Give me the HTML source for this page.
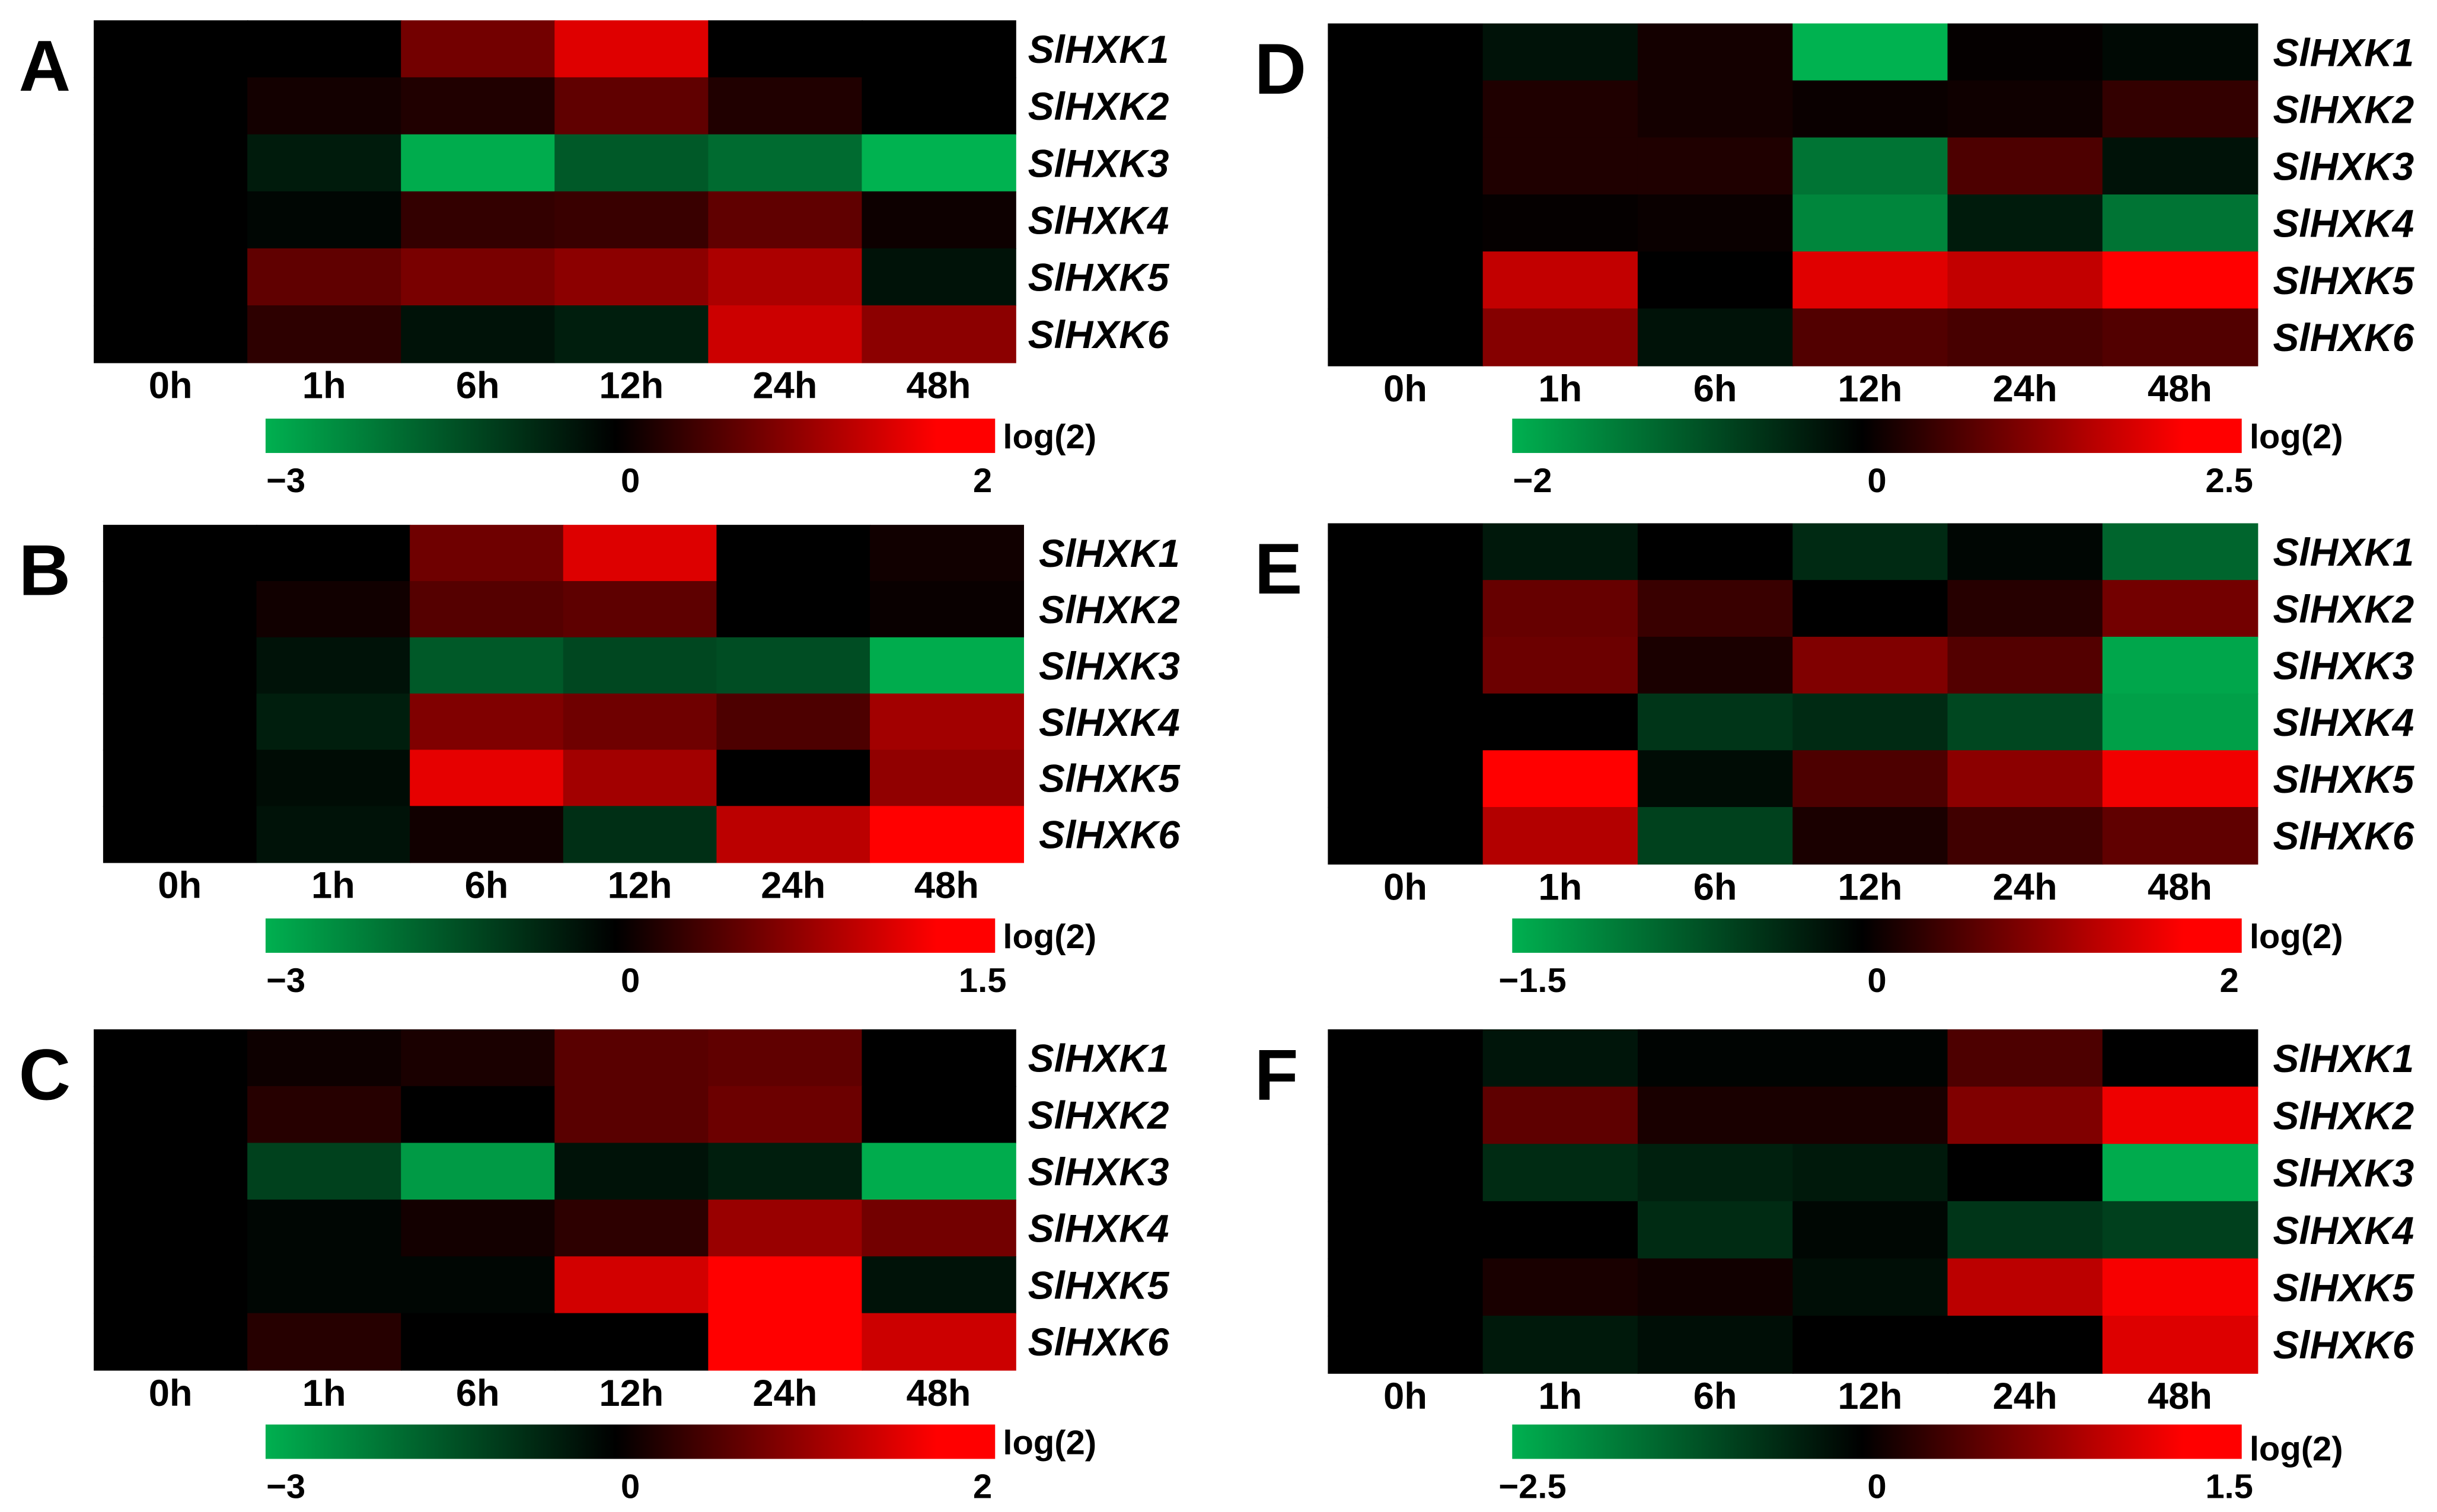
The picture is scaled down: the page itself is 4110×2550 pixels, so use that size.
<!DOCTYPE html>
<html><head><meta charset="utf-8"><style>
html,body{margin:0;padding:0;background:#fff}
svg{display:block}
text{font-family:"Liberation Sans",Arial,sans-serif;font-weight:bold;fill:#000}
</style></head><body>
<svg id="fig" width="4110" height="2550" viewBox="0 0 1560 968" preserveAspectRatio="none" xmlns="http://www.w3.org/2000/svg">
<defs>
<linearGradient id="cb" x1="0" x2="1" y1="0" y2="0">
<stop offset="0" stop-color="#00b050"/><stop offset="0.48" stop-color="#000"/><stop offset="0.92" stop-color="#ff0000"/><stop offset="1" stop-color="#ff0000"/>
</linearGradient>
</defs>
</svg>
<script>
const timepoints = ["0h","1h","6h","12h","24h","48h"];
const genes = ["SlHXK1","SlHXK2","SlHXK3","SlHXK4","SlHXK5","SlHXK6"];
const panelLetters = ["A","B","C","D","E","F"];
const scaleMin = [-3,-3,-3,-2,-1.5,-2.5];
const scaleMax = [2,1.5,2,2.5,2,1.5];
const minLabels = ["\u22123","\u22123","\u22123","\u22122","\u22121.5","\u22122.5"];
const maxLabels = ["2","1.5","2","2.5","2","1.5"];
const valuesA = [[0,0,0.9,1.75,0,0],[0,0.15,0.25,0.75,0.25,0],[0,-0.45,-2.9,-1.5,-1.8,-3],[0,-0.1,0.4,0.45,0.75,0.1],[0,0.75,0.95,1.1,1.35,-0.3],[0,0.35,-0.3,-0.5,1.6,1.1]];
const valuesB = [[0,0,0.65,1.3,0,0.1],[0,0.1,0.5,0.55,0,0.05],[0,-0.3,-1.5,-1.2,-1.3,-2.9],[0,-0.5,0.75,0.65,0.45,0.95],[0,-0.2,1.35,0.95,0,0.85],[0,-0.3,0.1,-0.8,1.1,1.5]];
const valuesC = [[0,0.1,0.2,0.7,0.75,0],[0,0.3,0,0.7,0.85,0],[0,-1.1,-2.6,-0.3,-0.5,-2.9],[0,-0.1,0.15,0.35,1.2,0.9],[0,-0.1,-0.1,1.65,2,-0.3],[0,0.3,0,0,2,1.6]];
const valuesD = [[0,-0.2,0.2,-2,0.05,-0.1],[0,0.3,0.2,0.1,0.15,0.5],[0,0.3,0.3,-1.3,0.75,-0.2],[0,0.05,0.1,-1.5,-0.3,-1.3],[0,1.9,0,2.2,1.9,2.5],[0,1.3,-0.2,0.8,0.7,0.8]];
const valuesE = [[0,-0.2,0,-0.35,-0.05,-0.85],[0,0.8,0.45,0,0.3,0.9],[0,0.85,0.2,1.0,0.65,-1.4],[0,0,-0.45,-0.35,-0.6,-1.35],[0,2,-0.1,0.6,1.1,1.9],[0,1.4,-0.55,0.2,0.5,0.75]];
const valuesF = [[0,-0.3,-0.05,-0.05,0.45,0],[0,0.55,0.15,0.15,0.75,1.4],[0,-0.6,-0.45,-0.35,0,-2.4],[0,0,-0.6,-0.1,-0.75,-0.9],[0,0.15,0.1,-0.2,1.1,1.45],[0,-0.35,-0.2,0,0,1.3]];
const allValues = [valuesA,valuesB,valuesC,valuesD,valuesE,valuesF];

const layout = [
 {hx:60,hy:13,hw:590,hh:219,lx:658,cy:268,lx0:12},
 {hx:66,hy:336,hw:589,hh:216,lx:665,cy:588,lx0:12},
 {hx:60,hy:659,hw:590,hh:218,lx:658,cy:912,lx0:12},
 {hx:850,hy:15,hw:595,hh:219,lx:1455,cy:268,lx0:803},
 {hx:850,hy:335,hw:595,hh:218,lx:1455,cy:588,lx0:803},
 {hx:850,hy:659,hw:595,hh:220,lx:1455,cy:912,lx0:803}
];
const cbX = [170,170,170,968,968,968];
const cbW = 467, cbH = 22;
const NS = "http://www.w3.org/2000/svg";
const svg = document.getElementById('fig');
function mk(tag, attrs, parent){const e=document.createElementNS(NS,tag);for(const k in attrs)e.setAttribute(k,attrs[k]);(parent||svg).appendChild(e);return e;}
function color(v,mn,mx){
  if(v<0){const t=Math.min(1,v/mn);return `rgb(0,${Math.round(178*t)},${Math.round(80*t)})`;}
  const t=Math.min(1,v/mx);return `rgb(${Math.round(255*t)},0,0)`;
}
allValues.forEach((vals,p)=>{
  const L=layout[p];
  const g=mk('g',{});
  
  
  const xs=c=>L.hx+c*L.hw/timepoints.length;
  const ys=r=>L.hy+r*L.hh/genes.length;
  const cw=L.hw/timepoints.length, ch=L.hh/genes.length;
  vals.forEach((row,r)=>row.forEach((v,c)=>{
    const rc=mk('rect',{x:xs(c),y:ys(r),width:cw+0.5,height:ch+0.5,fill:color(v,scaleMin[p],scaleMax[p])},g);
    
    
  }));
  genes.forEach((gn,r)=>{
    const t=mk('text',{x:L.lx,y:ys(r)+ch/2+9,'font-size':25,'font-style':'italic'},g);
    t.textContent=gn;
    
    
  });
  timepoints.forEach((tp,c)=>{
    const t=mk('text',{x:xs(c)+cw/2,y:L.hy+L.hh+23,'font-size':24,'text-anchor':'middle'},g);
    t.textContent=tp;
    
    
  });
  const lt=mk('text',{x:L.lx0,y:L.hy+45,'font-size':46},g);
  lt.textContent=panelLetters[p];
  
  
  const cb=mk('rect',{x:cbX[p],y:L.cy,width:cbW,height:cbH,fill:'url(#cb)'},g);
  
  
  const lg=mk('text',{x:cbX[p]+cbW+5,y:L.cy+19+(p===5?4:0),'font-size':22},g);
  lg.textContent='log(2)';
  
  
  const tickY=L.cy+cbH+25;
  const t1=mk('text',{x:cbX[p]+13,y:tickY,'font-size':22,'text-anchor':'middle'},g);
  t1.textContent=minLabels[p];
  
  
  const t2=mk('text',{x:cbX[p]+cbW/2,y:tickY,'font-size':22,'text-anchor':'middle'},g);
  t2.textContent='0';
  
  
  const t3=mk('text',{x:cbX[p]+cbW-8,y:tickY,'font-size':22,'text-anchor':'middle'},g);
  t3.textContent=maxLabels[p];
  
  
});
</script>
</body></html>
